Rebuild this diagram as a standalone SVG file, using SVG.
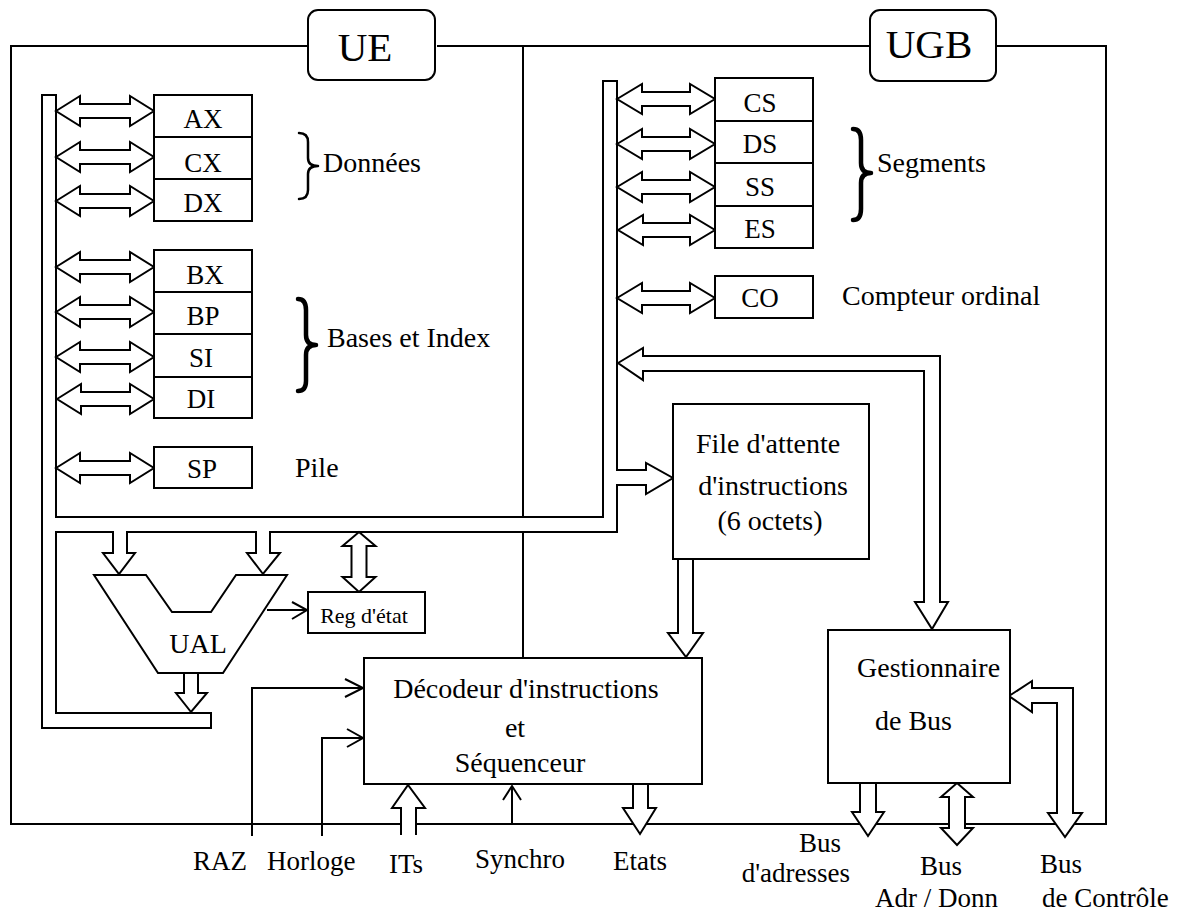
<svg xmlns="http://www.w3.org/2000/svg" width="1183" height="912" viewBox="0 0 1183 912">
<style>
.ln{fill:none;stroke:#000;stroke-width:2;stroke-linejoin:miter}
.box{fill:#fff;stroke:#000;stroke-width:2}
.ar{fill:#fff;stroke:#000;stroke-width:2;stroke-linejoin:miter}
.br{fill:none;stroke:#000;stroke-linecap:round;stroke-linejoin:round}
text{font-family:"Liberation Serif","Times New Roman",serif;fill:#000;font-size:28px}
.reg{text-anchor:middle;font-size:27px}
.sig{font-size:27px}
.mid{text-anchor:middle}
.big{font-size:41px;text-anchor:middle}
.sm{font-size:22px;text-anchor:middle}
</style>
<rect width="1183" height="912" fill="#fff"/>
<g id="connectors">
  <path class="ln" d="M307,46 L11,46 L11,824 L1106,824 L1106,46 L996,46 M437,46 L870,46"/>
  <path class="ln" d="M523,46 L523,517 M523,532 L523,658"/>
  <path class="ar" d="M56,517 L603,517 L603,81 L617,81 L617,470 L646,470 L646,463 L673,478 L646,494 L646,485 L617,485 L617,532 L270,532 L270,553 L280,553 L263,574 L247,553 L256,553 L256,532 L127,532 L127,553 L135,553 L119,574 L103,553 L113,553 L113,532 L56,532 L56,713 L211,713 L211,728 L42,728 L42,95 L56,95 Z"/>
  <g id="regArrowsLeft">
    <polygon class="ar" points="56,111 80,96 80,104 130,104 130,96 154,111 130,126 130,118 80,118 80,126"/>
    <polygon class="ar" points="56,157 80,142 80,150 130,150 130,142 154,157 130,172 130,164 80,164 80,172"/>
    <polygon class="ar" points="56,201 80,186 80,194 130,194 130,186 154,201 130,216 130,208 80,208 80,216"/>
    <polygon class="ar" points="56,267 80,252 80,260 130,260 130,252 154,267 130,282 130,274 80,274 80,282"/>
    <polygon class="ar" points="56,312 80,297 80,305 130,305 130,297 154,312 130,327 130,319 80,319 80,327"/>
    <polygon class="ar" points="56,357 80,342 80,350 130,350 130,342 154,357 130,372 130,364 80,364 80,372"/>
    <polygon class="ar" points="57,399 81,384 81,392 130,392 130,384 154,399 130,414 130,406 81,406 81,414"/>
    <polygon class="ar" points="56,468 80,453 80,461 130,461 130,453 154,468 130,483 130,475 80,475 80,483"/>
  </g>
  <g id="regArrowsRight">
    <polygon class="ar" points="617,99 642,84 642,92 690,92 690,84 715,99 690,114 690,106 642,106 642,114"/>
    <polygon class="ar" points="617,144 642,129 642,137 690,137 690,129 715,144 690,159 690,151 642,151 642,159"/>
    <polygon class="ar" points="617,187 642,172 642,180 690,180 690,172 715,187 690,202 690,194 642,194 642,202"/>
    <polygon class="ar" points="618,230 643,215 643,223 690,223 690,215 715,230 690,245 690,237 643,237 643,245"/>
    <polygon class="ar" points="617,298 642,283 642,291 690,291 690,283 715,298 690,313 690,305 642,305 642,313"/>
  </g>
  <path class="ar" d="M184,673 L184,693 L176,693 L191,712 L207,693 L198,693 L198,673"/>
  <path class="ln" d="M267,610 L307,610 M292,602 L307,610 L292,619"/>
  <polygon class="ar" points="359,532 375.5,546 366.5,546 366.5,577 375.5,577 359,592 342.5,577 351.5,577 351.5,546 342.5,546"/>
  <path class="ar" d="M678,559 L678,633 L668,633 L686,657 L703,633 L693,633 L693,559"/>
  <polygon class="ar" points="618,363 643,348 643,356 940,356 940,602 948,602 932,629 915,602 924,602 924,371 643,371 643,380"/>
  <path class="ln" d="M252,836 L252,688 L362,688 M345,679 L363,688 L345,697"/>
  <path class="ln" d="M322,836 L322,738 L362,738 M347,729 L363,738 L347,747"/>
  <path class="ar" d="M401,835 L401,808 L392,808 L408,785 L425,808 L416,808 L416,835"/>
  <path class="ln" d="M512,824 L512,786 M503,800 L512,786 L521,800"/>
  <path class="ar" d="M633,784 L633,808 L623,808 L640,834 L656,808 L648,808 L648,784"/>
  <path class="ar" d="M860,783 L860,812 L852,812 L868,836 L884,812 L876,812 L876,783"/>
  <polygon class="ar" points="957,783 973,797 965,797 965,828 973,828 957,845 941,828 949,828 949,797 941,797"/>
  <polygon class="ar" points="1009,696 1032,681 1032,688 1073,688 1073,813 1082,813 1065,837 1048,813 1057,813 1057,703 1032,703 1032,712"/>
</g>
<g id="UE">
  <rect class="box" x="308" y="10" width="127" height="70" rx="10"/>
  <text class="big" x="365" y="61">UE</text>
</g>
<g id="UGB">
  <rect class="box" x="870" y="10" width="126" height="71" rx="10"/>
  <text class="big" x="929" y="58">UGB</text>
</g>
<g id="AX"><rect class="box" x="154" y="95" width="98" height="42"/><text class="reg" x="203" y="128">AX</text></g>
<g id="CX"><rect class="box" x="154" y="137" width="98" height="42"/><text class="reg" x="203" y="172">CX</text></g>
<g id="DX"><rect class="box" x="154" y="179" width="98" height="42"/><text class="reg" x="203" y="212">DX</text></g>
<g id="BX"><rect class="box" x="154" y="250" width="98" height="42"/><text class="reg" x="205" y="284">BX</text></g>
<g id="BP"><rect class="box" x="154" y="292" width="98" height="42"/><text class="reg" x="203" y="325">BP</text></g>
<g id="SI"><rect class="box" x="154" y="334" width="98" height="43"/><text class="reg" x="201" y="367">SI</text></g>
<g id="DI"><rect class="box" x="154" y="377" width="98" height="41"/><text class="reg" x="201" y="408">DI</text></g>
<g id="SP"><rect class="box" x="154" y="447" width="98" height="41"/><text class="reg" x="202" y="478">SP</text></g>
<g id="CS"><rect class="box" x="715" y="78" width="98" height="43"/><text class="reg" x="760" y="112">CS</text></g>
<g id="DS"><rect class="box" x="715" y="121" width="98" height="42"/><text class="reg" x="760" y="153">DS</text></g>
<g id="SS"><rect class="box" x="715" y="163" width="98" height="43"/><text class="reg" x="760" y="196">SS</text></g>
<g id="ES"><rect class="box" x="715" y="206" width="98" height="42"/><text class="reg" x="760" y="238">ES</text></g>
<g id="CO"><rect class="box" x="715" y="276" width="98" height="42"/><text class="reg" x="760" y="307">CO</text></g>
<g id="labels">
  <path class="br" stroke-width="2.5" d="M299,133 Q308,133 308,142 L308,158 Q308,166 318,166 Q308,166 308,174 L308,190 Q308,199 299,199"/>
  <text x="323" y="172">Données</text>
  <path class="br" stroke-width="4.5" d="M298,299 Q306,299 306,310 L306,335 Q306,345 316,345 Q306,345 306,355 L306,381 Q306,391 298,391"/>
  <text x="327" y="347">Bases et Index</text>
  <text x="295" y="477">Pile</text>
  <path class="br" stroke-width="4.5" d="M853,129 Q861,129 861,140 L861,163 Q861,173 871,173 Q861,173 861,183 L861,209 Q861,220 853,220"/>
  <text x="877" y="172">Segments</text>
  <text x="842" y="305">Compteur ordinal</text>
</g>
<g id="UAL">
  <polygon class="box" points="94,575 146,575 172,612 211,612 236,575 287,575 223,673 158,673"/>
  <text class="mid" x="198" y="653">UAL</text>
</g>
<g id="RegEtat">
  <rect class="box" x="308" y="592" width="117" height="41"/>
  <text class="sm" x="364" y="623">Reg d'état</text>
</g>
<g id="File">
  <rect class="box" x="673" y="404" width="196" height="155"/>
  <text class="mid" x="768" y="453">File d'attente</text>
  <text class="mid" x="773" y="495">d'instructions</text>
  <text class="mid" x="770" y="530">(6 octets)</text>
</g>
<g id="Decodeur">
  <rect class="box" x="364" y="658" width="338" height="126"/>
  <text class="mid" x="526" y="698">Décodeur d'instructions</text>
  <text class="mid" x="515" y="737">et</text>
  <text class="mid" x="520" y="772">Séquenceur</text>
</g>
<g id="Gestionnaire">
  <rect class="box" x="828" y="630" width="182" height="153"/>
  <text x="857" y="677">Gestionnaire</text>
  <text x="875" y="730">de Bus</text>
</g>
<g id="signals">
  <text class="sig" x="193" y="870">RAZ</text>
  <text class="sig" x="267" y="870">Horloge</text>
  <text class="sig" x="389" y="873">ITs</text>
  <text class="sig" x="475" y="868">Synchro</text>
  <text class="sig" x="613" y="870">Etats</text>
  <text class="sig" x="799" y="852" font-size="26">Bus</text>
  <text class="sig" x="850" y="882" text-anchor="end" font-size="26">d'adresses</text>
  <text class="sig" x="920" y="875">Bus</text>
  <text class="sig" x="875" y="907">Adr / Donn</text>
  <text class="sig" x="1040" y="873">Bus</text>
  <text class="sig" x="1042" y="907">de Contrôle</text>
</g>
</svg>
